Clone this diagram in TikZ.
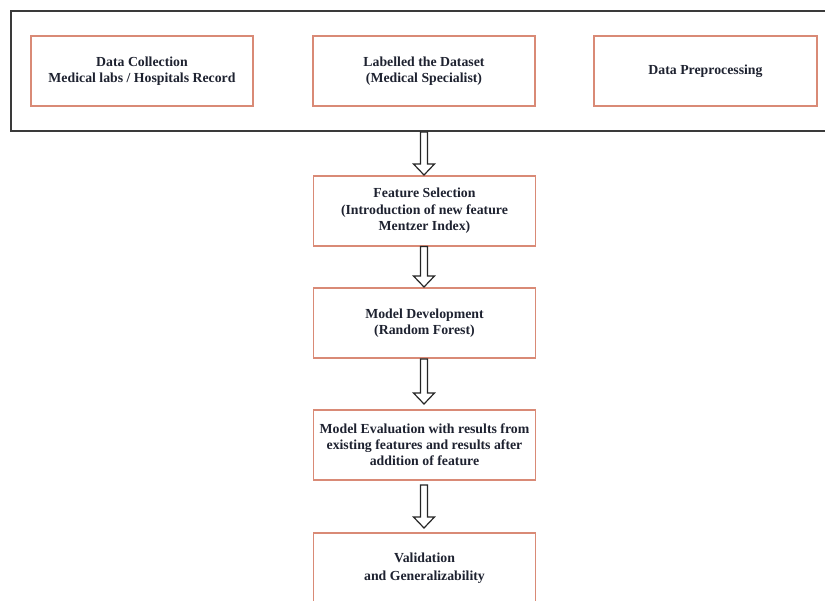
\documentclass[tikz,border=0pt]{standalone}
\usepackage{fontspec}
\setmainfont{Liberation Serif}
\usetikzlibrary{calc}
\definecolor{boxline}{HTML}{D98A76}
\definecolor{frameline}{HTML}{3A3A3A}
\definecolor{txt}{HTML}{1E2230}
\tikzset{
  stepbox/.style={draw=boxline, line width=1.6pt, rectangle, minimum width=222pt, minimum height=70pt,
    align=center, inner sep=2pt, font=\fontsize{13.8}{16.5}\selectfont\bfseries, text=txt},
  framebox/.style={draw=frameline, line width=1.8pt, rectangle, minimum width=819pt, minimum height=120pt, inner sep=0pt},
  hollowarrow/.style={draw=black!85, line width=1.2pt, fill=white, line join=miter}
}
\newcommand{\harrow}[2]{\draw[hollowarrow] let \p1=(#1), \p2=(#2) in
  (\x1-3.5pt,\y1) -- (\x1-3.5pt,\y2+11pt) -- (\x1-10.5pt,\y2+11pt) -- (\x1,\y2)
  -- (\x1+10.5pt,\y2+11pt) -- (\x1+3.5pt,\y2+11pt) -- (\x1+3.5pt,\y1) -- cycle;}
\begin{document}
\begin{tikzpicture}[x=1pt,y=-1pt]
\useasboundingbox (0,0) rectangle (825,601);
\clip (0,0) rectangle (825,601);
\node[framebox] (frame) at (420.5,71) {};
\node[stepbox] (dc) at (142,71) {Data Collection\\Medical labs / Hospitals Record};
\node[stepbox] (lab) at (424,71) {Labelled the Dataset\\(Medical Specialist)};
\node[stepbox, minimum width=223pt] (pre) at (705.5,71) {Data Preprocessing};
\node[stepbox] (fs) at (424.5,211) {Feature Selection\\(Introduction of new feature\\Mentzer Index)};
\node[stepbox] (md) at (424.5,323) {Model Development\\(Random Forest)};
\node[stepbox, font=\fontsize{13.8}{16}\selectfont\bfseries] (me) at (424.5,445) {Model Evaluation with results from\\existing features and results after\\addition of feature};
\node[stepbox, font=\fontsize{13.8}{18.5}\selectfont\bfseries] (val) at (424.5,568) {Validation\\and Generalizability};
\coordinate (a1s) at (424,132);
\coordinate (a1e) at (424,175);
\coordinate (a2s) at (424,246.5);
\coordinate (a2e) at (424,287);
\coordinate (a3s) at (424,359);
\coordinate (a3e) at (424,404);
\coordinate (a4s) at (424,485);
\coordinate (a4e) at (424,528);
\harrow{a1s}{a1e}
\harrow{a2s}{a2e}
\harrow{a3s}{a3e}
\harrow{a4s}{a4e}
\end{tikzpicture}
\end{document}
